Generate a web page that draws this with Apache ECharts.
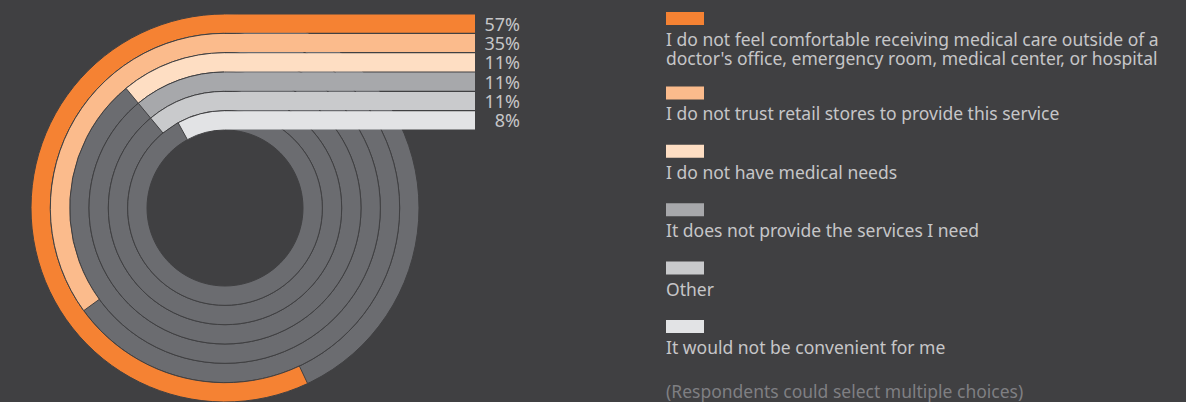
<!DOCTYPE html>
<html>
<head>
<meta charset="utf-8">
<title>Reasons for not using retail clinics</title>
<style>
    html, body { margin: 0; padding: 0; background: #404042; }
    #chart { width: 1186px; height: 402px; }
</style>
<script src="https://cdn.jsdelivr.net/npm/echarts@6/dist/echarts.min.js"></script>
</head>
<body>
<div id="chart"></div>
<script>
// ============================================
// Data
// ============================================

const reasons = [
    "I do not feel comfortable receiving medical care outside of a\ndoctor's office, emergency room, medical center, or hospital",
    "I do not trust retail stores to provide this service",
    "I do not have medical needs",
    "It does not provide the services I need",
    "Other",
    "It would not be convenient for me"
];
const shares = [57, 35, 11, 11, 11, 8];
const footnote = "(Respondents could select multiple choices)";

// ============================================
// Styles / layout
// ============================================

const ringColors = ['#f58233', '#fbbb8c', '#fedec3', '#a7a8ab', '#c9cacc', '#e2e3e5'];
const BG = '#404042';
const TRACK = '#6b6c70';
const TEXT = '#c6c6c8';
const FONT = '"Noto Sans", "Open Sans", sans-serif';

const CX = 225, CY = 208, R_IN = 78, R_OUT = 194;
const BAR_END = 475;

// legend built as graphic (swatch above text)
function buildLegend() {
    const items = [];
    let y = 12;
    reasons.forEach((name, i) => {
        const lines = name.split('\n').length;
        items.push({
            type: 'rect',
            shape: { x: 666, y: y, width: 38, height: 13 },
            style: { fill: ringColors[i] }
        });
        items.push({
            type: 'text',
            x: 666,
            y: y + 17.5,
            style: {
                text: name,
                fill: TEXT,
                font: '17.5px ' + FONT,
                lineHeight: 19,
                verticalAlign: 'top'
            }
        });
        y += 58.4 + 16 * (lines - 1);
    });
    items.push({
        type: 'text',
        x: 666,
        y: 391,
        style: {
            text: footnote,
            fill: '#7f7f82',
            font: '17.5px ' + FONT,
            verticalAlign: 'middle'
        }
    });
    return items;
}

const chart = echarts.init(document.getElementById('chart'), null, { renderer: 'svg' });

chart.setOption({
    backgroundColor: BG,
    animation: false,
    polar: { center: [CX, CY], radius: [R_IN, R_OUT] },
    angleAxis: {
        type: 'value', min: 0, max: 100, startAngle: 90, clockwise: false, show: false
    },
    radiusAxis: {
        type: 'category', data: reasons, inverse: true, show: false
    },
    grid: {
        left: CX - 1, top: CY - R_OUT, width: BAR_END - CX + 1, height: R_OUT - R_IN
    },
    xAxis: { type: 'value', min: 0, max: 1, show: false },
    yAxis: {
        type: 'category',
        data: shares.map(v => v + '%'),
        inverse: true,
        position: 'right',
        axisLine: { show: false },
        axisTick: { show: false },
        axisLabel: {
            interval: 0,
            margin: 45,
            align: 'right',
            color: TEXT,
            fontSize: 18,
            lineHeight: 19,
            fontFamily: FONT
        }
    },
    series: [
        {
            // ring arcs
            type: 'bar',
            coordinateSystem: 'polar',
            barCategoryGap: '0%',
            data: shares.map((v, i) => ({ value: v, itemStyle: { color: ringColors[i] } })),
            itemStyle: { borderColor: BG, borderWidth: 1 },
            showBackground: true,
            backgroundStyle: { color: TRACK, borderColor: BG, borderWidth: 1 },
            z: 1
        },
        {
            // straight leaders running out to the labels
            type: 'bar',
            xAxisIndex: 0,
            yAxisIndex: 0,
            barCategoryGap: '6%',
            data: shares.map((v, i) => ({ value: 1, itemStyle: { color: ringColors[i] } })),
            z: 3
        }
    ],
    graphic: buildLegend()
});
</script>
</body>
</html>
